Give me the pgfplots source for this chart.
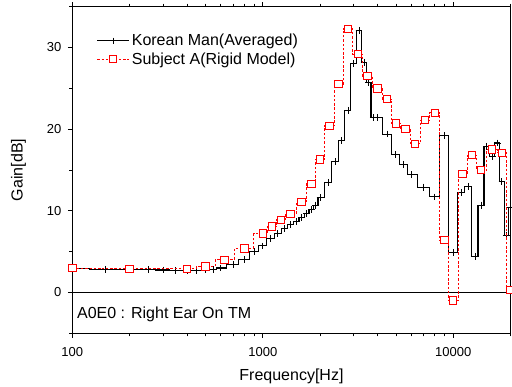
\documentclass[border=0pt]{standalone}
\usepackage{pgfplots}
\pgfplotsset{compat=1.18}
\usepackage{fontspec}
\setmainfont{Liberation Sans}

% Korean Man (averaged): gain in dB
\pgfplotstableread{
f      g
100    2.9
150    2.85
200    2.8
250    2.77
300    2.75
350    2.7
400    2.65
450    2.7
500    2.75
550    2.85
600    3.0
700    3.4
800    4.0
900    5.0
1000   5.7
1100   6.6
1200   7.2
1300   7.8
1400   8.3
1500   8.7
1600   9.2
1700   9.7
1800   10.2
1900   10.7
2000   11.6
2200   13.5
2400   16.0
2600   18.6
2800   22.3
3000   28.0
3200   32.1
3400   28.2
3600   25.7
3800   21.4
4000   21.4
4500   19.4
5000   16.9
5500   15.7
6000   14.4
7000   12.9
8000   11.7
9000   19.2
10000  4.9
11000  12.2
12000  13.0
13000  4.4
14000  10.7
15000  17.9
16000  16.7
17000  18.3
18000  13.6
19000  7.0
20000  10.4
}\koreanman

% Subject A (rigid model): gain in dB
\pgfplotstableread{
f      g
100    3.0
200    2.9
400    2.9
500    3.2
630    4.0
800    5.4
1000   7.2
1120   8.1
1250   8.9
1400   9.6
1600   11.1
1800   13.3
2000   16.3
2240   20.4
2500   25.5
2800   32.3
3150   29.2
3550   26.5
4000   25.0
4500   23.7
5000   20.7
5600   20.0
6300   18.2
7100   21.1
8000   22.0
9000   6.4
10000  -1.0
11200  14.5
12500  16.8
14000  15.0
16000  17.5
18000  17.1
20000  0.3
}\subjecta

\begin{document}
\begin{tikzpicture}
\begin{semilogxaxis}[
  scale only axis,
  width=438.3pt, height=326.6pt,
  xmin=100, xmax=20000,
  ymin=-5, ymax=35,
  axis line style={line width=1pt},
  tick align=outside,
  xtick pos=both, ytick pos=left,
  xtick={100,1000,10000},
  xticklabels={100,1000,10000},
  minor xtick={200,300,400,500,600,700,800,900,2000,3000,4000,5000,6000,7000,8000,9000,20000},
  ytick={0,10,20,30},
  minor ytick={-5,5,15,25,35},
  major tick length=4.5pt, minor tick length=3pt,
  every tick/.style={black, line width=0.8pt},
  /pgf/number format/assume math mode=true,
  tick label style={font=\fontsize{13}{15}\selectfont},
  xticklabel style={yshift=-6pt},
  yticklabel style={xshift=-3pt},
  xlabel={Frequency[Hz]}, ylabel={Gain[dB]},
  label style={font=\fontsize{16}{19}\selectfont},
  xlabel style={at={(axis description cs:0.5,-0.131)}, anchor=center},
  ylabel style={at={(axis description cs:-0.123,0.5)}, anchor=center},
  legend style={draw=none, fill=none, font=\fontsize{16}{19}\selectfont,
    at={(axis description cs:0.053,0.925)}, anchor=north west,
    row sep=1pt, inner sep=1pt},
  legend cell align=left,
  legend image code/.code={%
    \draw[mark repeat=2, mark phase=2, #1]
      plot coordinates {(0pt,0pt) (16pt,0pt) (32pt,0pt)};},
  clip mode=individual,
]
\coordinate (ll) at (rel axis cs:0,0);
\addplot[black, line width=1.8pt, forget plot] coordinates {(100,0) (20000,0)};
\addplot[black, line width=1.1pt, const plot mark mid,
  mark=+, mark size=3.4pt, mark options={line width=0.9pt}]
  table[x=f, y=g] {\koreanman};
\addlegendentry{Korean Man(Averaged)}
\addplot[red, line width=0.9pt, dash pattern=on 2.5pt off 1.8pt, const plot mark mid,
  mark=square*, mark size=3.7pt, mark options={solid, fill=white, draw=red, line width=1pt}]
  table[x=f, y=g] {\subjecta};
\addlegendentry{Subject A(Rigid Model)}
\node[anchor=west, font=\fontsize{16}{19}\selectfont] at (rel axis cs:0.003,0.058) {A0E0 : Right Ear On TM};
\end{semilogxaxis}
\pgfresetboundingbox
\path (ll) ++(-72.3pt,-53.7pt) rectangle ++(512pt,387pt);
\end{tikzpicture}
\end{document}
